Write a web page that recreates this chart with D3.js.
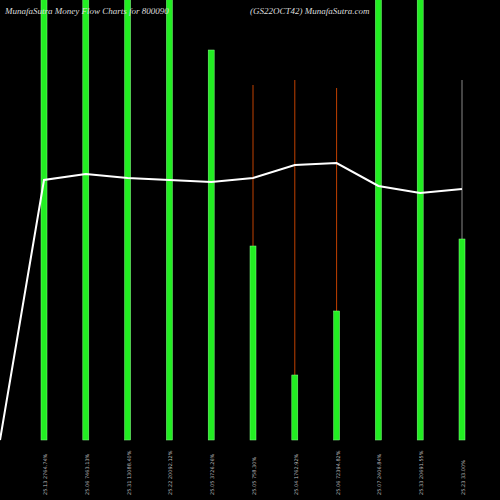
<!DOCTYPE html>
<html><head><meta charset="utf-8">
<script src="https://cdn.jsdelivr.net/npm/d3@7"></script>
<style>body{margin:0;background:#000}</style>
</head><body>
<script>
const labels = ["25.13 2764.74%","25.06 7463.13%","25.31 13088.40%","25.22 20092.12%","25.05 3726.26%","25.05 758.30%","25.04 1762.92%","25.06 72394.82%","25.07 2406.84%","25.33 20691.55%","25.23 33.00%"];
const bars = [500, 500, 500, 500, 390, 194, 65, 129, 500, 500, 201];
const wicks = [0, 0, 0, 0, 0, 355, 360, 352, 0, 0, 360];
const wickColors = ["", "", "", "", "", "#c04000", "#c04000", "#c04000", "", "", "#888"];
const lineVals = [0, 260, 266, 262, 260, 258, 262, 275, 277, 254, 247, 251];

const W = 500, H = 500;
const svg = d3.select("body").append("svg").attr("width", W).attr("height", H);
svg.append("rect").attr("width", W).attr("height", H).attr("fill", "#000");

const x = d3.scaleLinear().domain([0, 10]).range([44, 462]);
const y = d3.scaleLinear().domain([0, 440]).range([440, 0]);

svg.selectAll(".wick").data(wicks).enter().append("line")
  .attr("x1", (d, i) => x(i)).attr("x2", (d, i) => x(i))
  .attr("y1", d => y(d)).attr("y2", 440)
  .attr("stroke", (d, i) => wickColors[i] || "none").attr("stroke-width", 1)
  .style("display", d => d ? null : "none");

svg.selectAll(".bar").data(bars).enter().append("rect")
  .attr("x", (d, i) => x(i) - 3).attr("width", 6)
  .attr("y", d => y(d)).attr("height", d => 440 - y(d))
  .attr("fill", "#22ee22").attr("stroke", "#88ff88").attr("stroke-width", 0.5);

const lx = i => i === 0 ? 0 : x(i - 1);
svg.append("path").datum(lineVals)
  .attr("d", d3.line().x((d, i) => lx(i)).y(d => y(d)))
  .attr("fill", "none").attr("stroke", "#fff").attr("stroke-width", 2);

svg.selectAll(".lbl").data(labels).enter().append("text")
  .attr("transform", (d, i) => `translate(${x(i) + 3},${495}) rotate(-90)`)
  .attr("fill", "#bbb").attr("font-size", 5).attr("font-family", "DejaVu Sans")
  .text(d => d);

svg.append("text").attr("x", 5).attr("y", 14).attr("fill", "#ddd")
  .attr("font-family", "Liberation Serif").attr("font-style", "italic").attr("font-size", 9)
  .text("MunafaSutra  Money Flow  Charts for 800090");
svg.append("text").attr("x", 250).attr("y", 14).attr("fill", "#ddd")
  .attr("font-family", "Liberation Serif").attr("font-style", "italic").attr("font-size", 9)
  .text("(GS22OCT42) MunafaSutra.com");
</script>
</body></html>
